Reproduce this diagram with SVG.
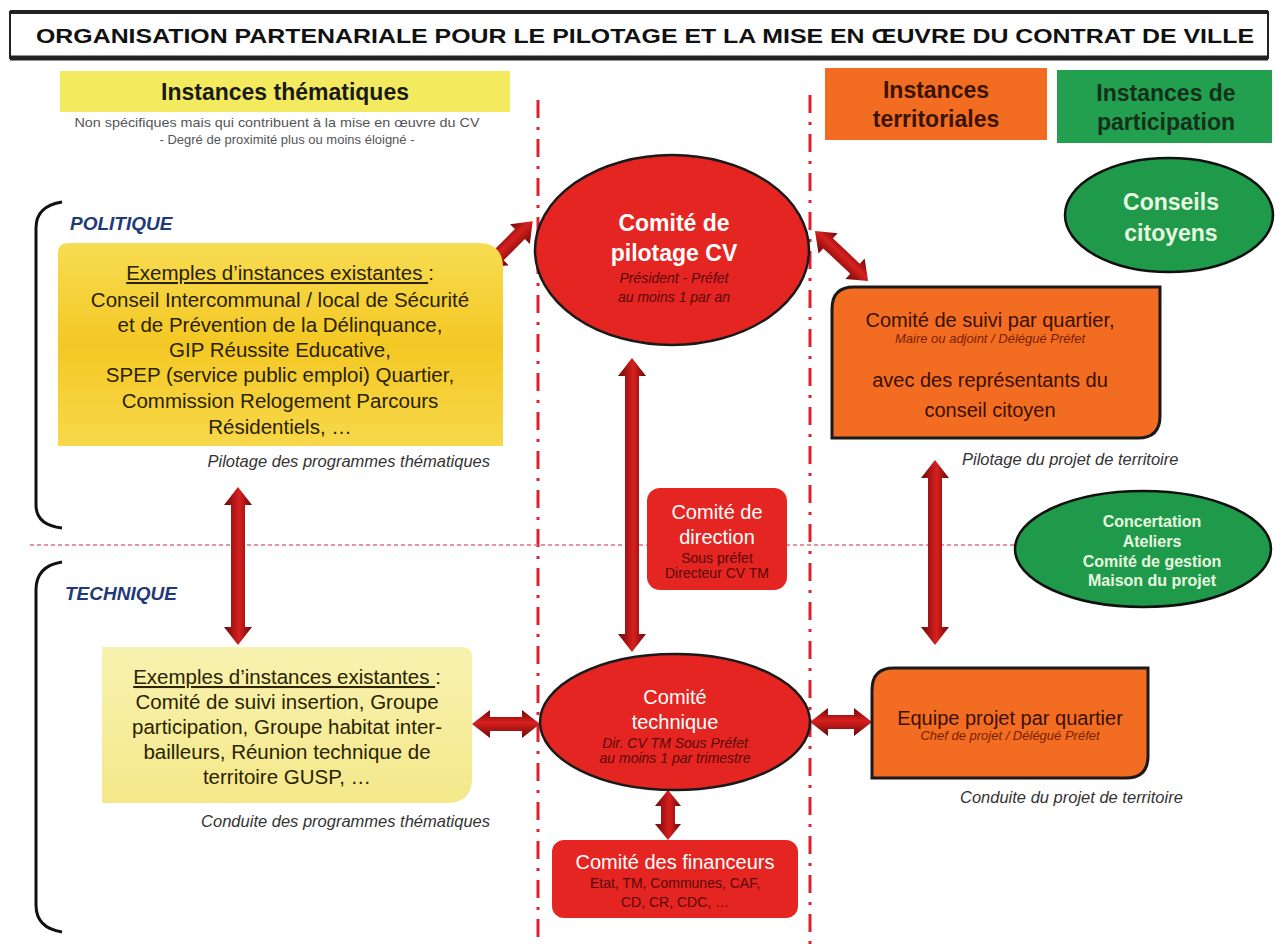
<svg xmlns="http://www.w3.org/2000/svg" width="1275" height="944" viewBox="0 0 1275 944">
<defs>
<linearGradient id="arrowGrad" x1="0" y1="0" x2="0" y2="1">
<stop offset="0" stop-color="#6a0808"/>
<stop offset="0.45" stop-color="#d8201e"/>
<stop offset="1" stop-color="#6a0808"/>
</linearGradient>
<linearGradient id="yellow1" x1="0" y1="0" x2="0" y2="1">
<stop offset="0" stop-color="#f7dc52"/>
<stop offset="0.5" stop-color="#f4c824"/>
<stop offset="1" stop-color="#f7d84a"/>
</linearGradient>
<linearGradient id="yellow2" x1="0" y1="0" x2="0" y2="1">
<stop offset="0" stop-color="#f8f2b0"/>
<stop offset="1" stop-color="#f4e88a"/>
</linearGradient>
</defs>
<style>
text{font-family:"Liberation Sans",Arial,sans-serif;}
.title{font-size:21px;font-weight:bold;fill:#111;}
.hdr{font-size:23px;font-weight:bold;}
.sub{font-size:13px;fill:#555;}
.lbl{font-size:19px;font-weight:bold;font-style:italic;fill:#1f3a78;}
.body{font-size:20.5px;fill:#2a2200;text-anchor:middle;}
.cap{font-size:16.5px;font-style:italic;fill:#333;}
.white{fill:#fff;text-anchor:middle;}
.small{font-size:14px;fill:#5a0808;text-anchor:middle;}
.orgtxt{font-size:20px;fill:#3a1000;text-anchor:middle;}
.orgsm{font-size:13px;font-style:italic;fill:#7a1e00;text-anchor:middle;}
.grn{fill:#e8f8e0;font-weight:bold;text-anchor:middle;}
.redfill{fill:#e52521;}
.ell{stroke:#1a1a1a;stroke-width:2.5;}
.orgbox{fill:#f26d21;stroke:#1a1a1a;stroke-width:3;}
.grnell{fill:#1f9a4a;stroke:#111;stroke-width:2.5;}
.arrow{fill:url(#arrowGrad);}
.vline{stroke:#e0202c;stroke-width:3;stroke-dasharray:18 9 3 9;fill:none;}
</style>

<!-- title -->
<g id="title">
<rect x="10" y="12" width="1258" height="46" fill="#fff" stroke="#222" stroke-width="2"/>
<line x1="10" y1="12" x2="1268" y2="12" stroke="#222" stroke-width="4"/>
<line x1="10" y1="58" x2="1268" y2="58" stroke="#222" stroke-width="5"/>
<text class="title" x="645" y="43" text-anchor="middle" textLength="1218" lengthAdjust="spacingAndGlyphs">ORGANISATION PARTENARIALE POUR LE PILOTAGE ET LA MISE EN ŒUVRE DU CONTRAT DE VILLE</text>
</g>

<!-- separators -->
<g id="separators">
<line class="vline" x1="538" y1="100" x2="538" y2="944"/>
<line class="vline" x1="810" y1="95" x2="810" y2="944"/>
<line x1="30" y1="545" x2="1018" y2="545" stroke="#e07080" stroke-width="1.5" stroke-dasharray="4 3"/>
<path d="M62,202 Q36,206 36,228 V505 Q36,525 62,528" fill="none" stroke="#111" stroke-width="3"/>
<path d="M62,562 Q36,566 36,590 V905 Q36,928 62,932" fill="none" stroke="#111" stroke-width="3"/>
</g>

<!-- headers -->
<g id="hdr-thematiques">
<rect x="60" y="71" width="450" height="41" fill="#f4ea60"/>
<text class="hdr" x="285" y="100" text-anchor="middle" fill="#1a1a1a">Instances thématiques</text>
<text class="sub" x="277" y="127" text-anchor="middle" textLength="405" lengthAdjust="spacingAndGlyphs">Non spécifiques mais qui contribuent à la mise en œuvre du CV</text>
<text class="sub" x="287" y="144" text-anchor="middle">- Degré de proximité plus ou moins éloigné -</text>
</g>
<g id="hdr-territoriales">
<rect x="825" y="68" width="222" height="72" fill="#f26d21"/>
<text class="hdr" x="936" y="98" text-anchor="middle" fill="#3a1400">Instances</text>
<text class="hdr" x="936" y="127" text-anchor="middle" fill="#3a1400">territoriales</text>
</g>
<g id="hdr-participation">
<rect x="1057" y="70" width="215" height="73" fill="#22a04f"/>
<text class="hdr" x="1166" y="101" text-anchor="middle" fill="#14301a">Instances de</text>
<text class="hdr" x="1166" y="130" text-anchor="middle" fill="#14301a">participation</text>
</g>

<g id="lbl-politique"><text class="lbl" x="70" y="230">POLITIQUE</text></g>
<g id="lbl-technique"><text class="lbl" x="65" y="600">TECHNIQUE</text></g>

<!-- connectors -->
<g id="connectors">
<polygon class="arrow" transform="translate(486,268) rotate(-45)" points="0,0 18,-14 18,-7 48,-7 48,-14 66,0 48,14 48,7 18,7 18,14"/>
<polygon class="arrow" transform="translate(815,231) rotate(43.3)" points="0,0 18,-14 18,-7 55,-7 55,-14 73,0 55,14 55,7 18,7 18,14"/>
<polygon class="arrow" transform="translate(632,358) rotate(90)" points="0,0 18,-14 18,-7 276,-7 276,-14 294,0 276,14 276,7 18,7 18,14"/>
<polygon class="arrow" transform="translate(238,487) rotate(90)" points="0,0 18,-14 18,-7 140,-7 140,-14 158,0 140,14 140,7 18,7 18,14"/>
<polygon class="arrow" transform="translate(935,460) rotate(90)" points="0,0 18,-14 18,-7 167,-7 167,-14 185,0 167,14 167,7 18,7 18,14"/>
<polygon class="arrow" transform="translate(472,724)" points="0,0 18,-14 18,-7 50,-7 50,-14 68,0 50,14 50,7 18,7 18,14"/>
<polygon class="arrow" transform="translate(810,722)" points="0,0 18,-14 18,-7 44,-7 44,-14 62,0 44,14 44,7 18,7 18,14"/>
<polygon class="arrow" transform="translate(668,790) rotate(90)" points="0,0 16,-13 16,-7 34,-7 34,-13 50,0 34,13 34,7 16,7 16,13"/>
</g>

<!-- left thematic boxes -->
<g id="box-politique">
<path d="M58,253 Q58,243 68,243 H478 Q503,243 503,268 V446 H58 Z" fill="url(#yellow1)"/>
<text class="body" x="280" y="280"><tspan text-decoration="underline">Exemples d’instances existantes </tspan>:</text>
<text class="body" x="280" y="307">Conseil Intercommunal / local de Sécurité</text>
<text class="body" x="280" y="332">et de Prévention de la Délinquance,</text>
<text class="body" x="280" y="357">GIP Réussite Educative,</text>
<text class="body" x="280" y="382">SPEP (service public emploi) Quartier,</text>
<text class="body" x="280" y="408">Commission Relogement Parcours</text>
<text class="body" x="280" y="434">Résidentiels, …</text>
<text class="cap" x="490" y="467" text-anchor="end">Pilotage des programmes thématiques</text>
</g>

<g id="box-technique">
<path d="M102,647 H462 Q472,647 472,657 V778 Q472,803 447,803 H102 Z" fill="url(#yellow2)"/>
<text class="body" x="287" y="684"><tspan text-decoration="underline">Exemples d’instances existantes </tspan>:</text>
<text class="body" x="287" y="709">Comité de suivi insertion, Groupe</text>
<text class="body" x="287" y="734">participation, Groupe habitat inter-</text>
<text class="body" x="287" y="759">bailleurs, Réunion technique de</text>
<text class="body" x="287" y="784">territoire GUSP, …</text>
<text class="cap" x="490" y="827" text-anchor="end">Conduite des programmes thématiques</text>
</g>

<!-- central nodes -->
<g id="comite-pilotage">
<ellipse class="redfill ell" cx="672" cy="250" rx="137" ry="95"/>
<text class="white" x="674" y="231" font-size="23" font-weight="bold">Comité de</text>
<text class="white" x="674" y="261" font-size="23" font-weight="bold">pilotage CV</text>
<text class="small" x="674" y="283" font-style="italic">Président - Préfet</text>
<text class="small" x="674" y="302" font-style="italic">au moins 1 par an</text>
</g>

<g id="comite-direction">
<rect class="redfill" x="647" y="488" width="140" height="102" rx="13"/>
<text class="white" x="717" y="519" font-size="20">Comité de</text>
<text class="white" x="717" y="544" font-size="20">direction</text>
<text class="small" x="717" y="563" font-size="13">Sous préfet</text>
<text class="small" x="717" y="578" font-size="13">Directeur CV TM</text>
</g>

<g id="comite-technique">
<ellipse class="redfill ell" cx="675" cy="722" rx="135" ry="68"/>
<text class="white" x="675" y="704" font-size="20">Comité</text>
<text class="white" x="675" y="729" font-size="20">technique</text>
<text class="small" x="675" y="748" font-style="italic">Dir. CV TM  Sous Préfet</text>
<text class="small" x="675" y="763" font-style="italic">au moins 1 par trimestre</text>
</g>

<g id="comite-financeurs">
<rect class="redfill" x="552" y="840" width="246" height="78" rx="12"/>
<text class="white" x="675" y="869" font-size="20">Comité des financeurs</text>
<text class="small" x="675" y="888" font-size="15">Etat, TM, Communes, CAF,</text>
<text class="small" x="675" y="907" font-size="15">CD, CR, CDC, …</text>
</g>

<!-- territorial nodes -->
<g id="comite-suivi">
<path class="orgbox" d="M854,287 H1160 V416 Q1160,438 1138,438 H832 V309 Q832,287 854,287 Z"/>
<text class="orgtxt" x="990" y="327">Comité de suivi par quartier,</text>
<text class="orgsm" x="990" y="343">Maire ou adjoint / Délégué Préfet</text>
<text class="orgtxt" x="990" y="387">avec des représentants du</text>
<text class="orgtxt" x="990" y="417">conseil citoyen</text>
<text class="cap" x="962" y="465">Pilotage du projet de territoire</text>
</g>

<g id="equipe-projet">
<path class="orgbox" d="M894,668 H1148 V756 Q1148,778 1126,778 H872 V690 Q872,668 894,668 Z"/>
<text class="orgtxt" x="1010" y="725">Equipe projet par quartier</text>
<text class="orgsm" x="1010" y="740">Chef de projet / Délégué Préfet</text>
<text class="cap" x="960" y="803">Conduite du  projet de territoire</text>
</g>

<!-- participation nodes -->
<g id="conseils-citoyens">
<ellipse class="grnell" cx="1169" cy="215" rx="104" ry="57"/>
<text class="grn" x="1171" y="210" font-size="23">Conseils</text>
<text class="grn" x="1171" y="241" font-size="23">citoyens</text>
</g>

<g id="concertation">
<ellipse class="grnell" cx="1143" cy="549" rx="128" ry="58"/>
<text class="grn" x="1152" y="527" font-size="16">Concertation</text>
<text class="grn" x="1152" y="547" font-size="16">Ateliers</text>
<text class="grn" x="1152" y="567" font-size="16">Comité de gestion</text>
<text class="grn" x="1152" y="586" font-size="16">Maison du projet</text>
</g>
</svg>
